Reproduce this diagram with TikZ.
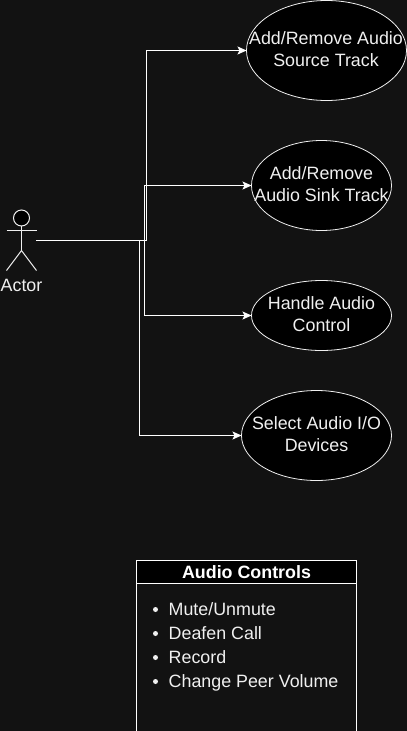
\documentclass[tikz,border=0pt]{standalone}
\usepackage{fontspec}
\setmainfont{Liberation Sans}
\usetikzlibrary{shapes.geometric,arrows.meta}
\definecolor{bgc}{HTML}{121212}
\definecolor{ink}{HTML}{F0F0F0}
\tikzset{
  x=1pt,y=-1pt,
  ucase/.style={ellipse,draw=ink,fill=black,line width=0.8pt,inner sep=0pt,outer sep=0pt},
  utext/.style={text=ink,align=center,inner sep=0pt,font=\fontsize{17.85}{22}\selectfont},
  conn/.style={draw=white,line width=1pt,-{Stealth[length=9pt,width=8pt,inset=2pt]}},
  stick/.style={draw=ink,line width=1pt},
  tbl/.style={draw=white,line width=1pt},
  item/.style={text=ink,anchor=base west,inner sep=0pt,font=\fontsize{17.85}{20}\selectfont},
  bul/.style={circle,fill=ink,inner sep=0pt,minimum size=5pt},
}
\begin{document}
\begin{tikzpicture}
\useasboundingbox (0,0) rectangle (407,731);
\fill[bgc] (0,0) rectangle (407,731);
% use cases
\node[ucase,minimum width=160pt,minimum height=100pt] (a) at (326.5,50.5) {};
\node[ucase,minimum width=140pt,minimum height=90pt] (b) at (321.5,185.5) {};
\node[ucase,minimum width=140pt,minimum height=70pt] (c) at (321.5,315.5) {};
\node[ucase,minimum width=150pt,minimum height=90pt] (d) at (316.5,435.5) {};
\node[utext] (at) at (326,49) {Add/Remove Audio\\Source Track};
\node[utext] (bt) at (321.5,184) {Add/Remove\\Audio Sink Track};
\node[utext] (ct) at (321.5,314) {Handle Audio\\Control};
\node[utext] (dt) at (316.5,434) {Select Audio I/O\\Devices};
% actor
\node[draw=ink,fill=black,circle,line width=1pt,minimum size=16pt,inner sep=0pt,outer sep=0pt] (head) at (21.5,218) {};
\coordinate (hip) at (21.5,250.5);
\coordinate (armL) at (6.5,230.5);
\coordinate (armR) at (36.5,230.5);
\coordinate (legL) at (6.5,270.5);
\coordinate (legR) at (36.5,270.5);
\draw[stick] (head.south) -- (hip);
\draw[stick] (armL) -- (armR);
\draw[stick] (legL) -- (hip) -- (legR);
\node[text=ink,font=\fontsize{17.85}{20}\selectfont,inner sep=0pt] (actor) at (21.5,285.5) {Actor};
% connectors
\coordinate (src) at (36,240.5);
\coordinate (j1) at (146.5,240.5);
\coordinate (j2) at (144,240.5);
\coordinate (j3) at (139,240.5);
\draw[conn] (src) -- (j3) |- (d.west);
\draw[conn] (src) -- (j2) |- (c.west);
\draw[conn] (src) -- (j2) |- (b.west);
\draw[conn] (src) -- (j1) |- (a.west);
% table
\node[tbl,fill=black,minimum width=220pt,minimum height=23pt,inner sep=0pt,outer sep=0pt,anchor=north west,text=white,font=\fontsize{17.85}{20}\selectfont\bfseries] (hd) at (136.5,560.5) {Audio Controls};
\coordinate (bl) at (136.5,740);
\coordinate (br) at (356.5,740);
\draw[tbl] (hd.south west) -- (bl) (hd.south east) -- (br);
\node[item] (i1) at (168.5,615) {Mute/Unmute};
\node[item] (i2) at (168.5,639) {Deafen Call};
\node[item] (i3) at (168.5,663) {Record};
\node[item] (i4) at (168.5,687) {Change Peer Volume};
\node[bul] (b1) at (155.5,609.5) {};
\node[bul] (b2) at (155.5,633.5) {};
\node[bul] (b3) at (155.5,657.5) {};
\node[bul] (b4) at (155.5,681.5) {};
\end{tikzpicture}
\end{document}
